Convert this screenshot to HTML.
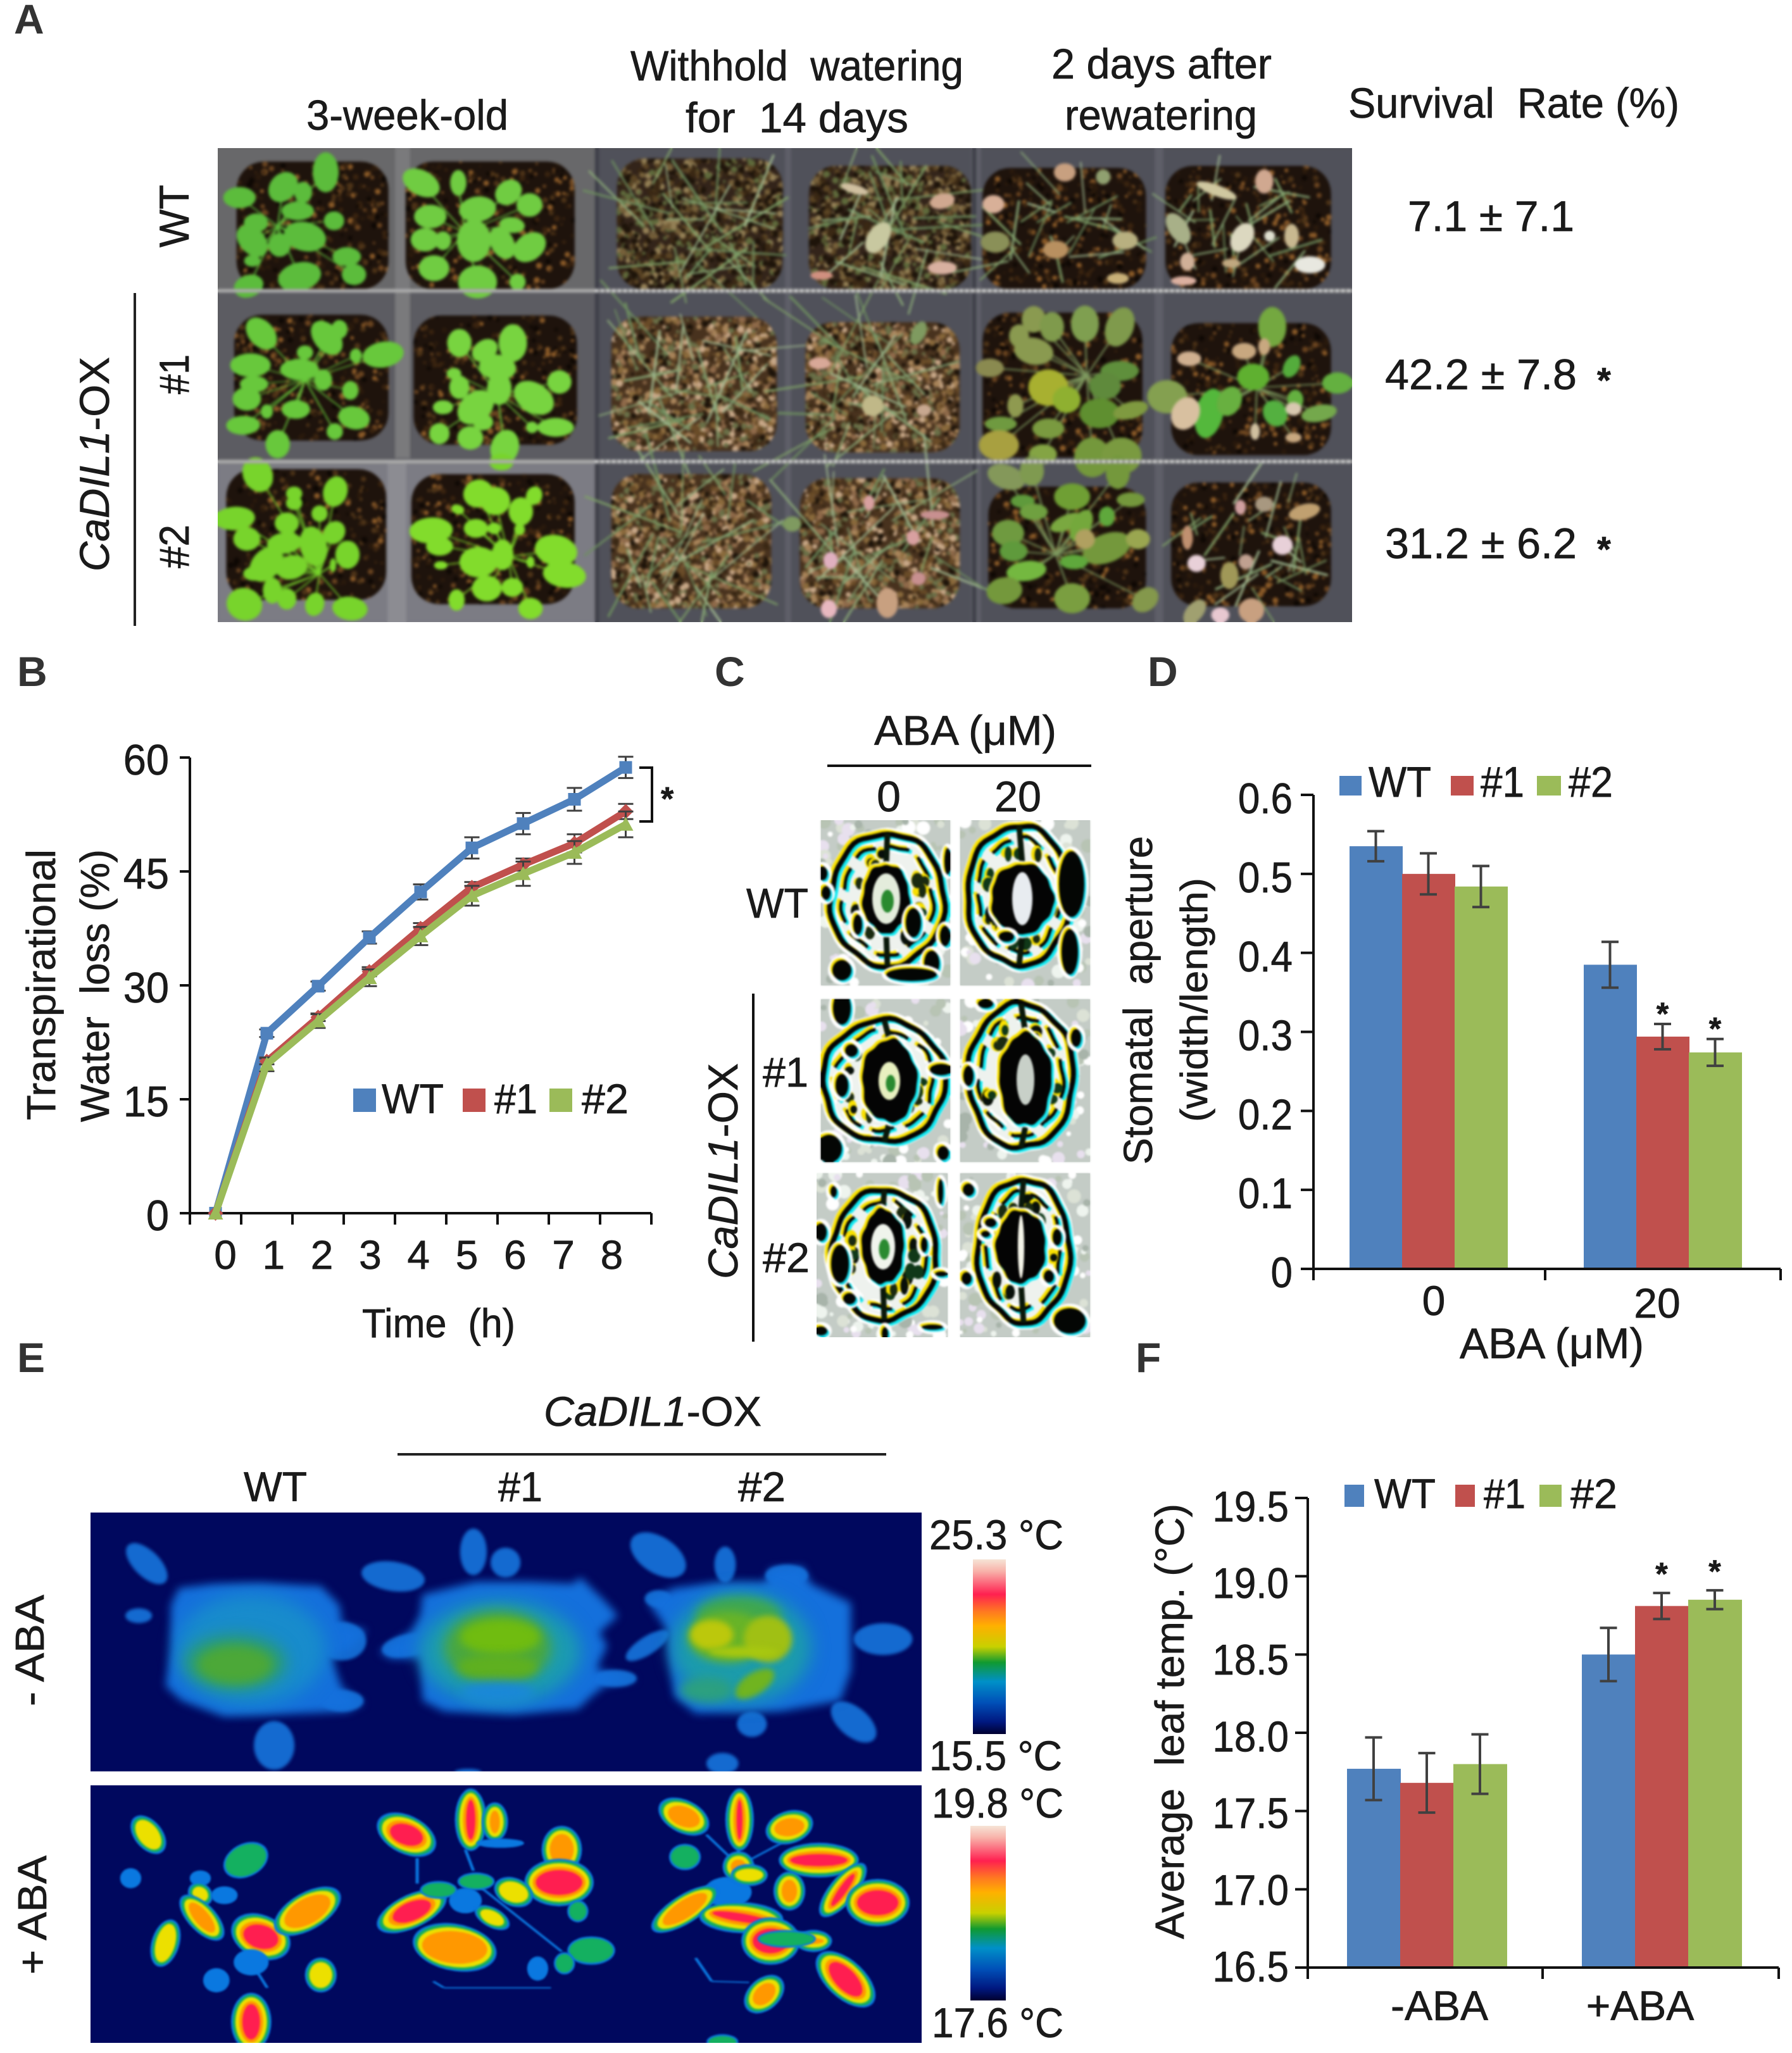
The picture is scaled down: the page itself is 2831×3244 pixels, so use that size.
<!DOCTYPE html>
<html lang="en">
<head>
<meta charset="utf-8">
<title>CaDIL1 drought tolerance figure</title>
<style>
html,body{margin:0;padding:0;background:#fff;}
#fig{position:relative;width:2831px;height:3244px;overflow:hidden;background:#fff;font-family:"Liberation Sans",sans-serif;}
canvas{position:absolute;display:block;}
svg{position:absolute;left:0;top:0;}
text{font-family:"Liberation Sans",sans-serif;fill:#1a1a1a;stroke:#1a1a1a;stroke-width:.7px;}
.pl{font-weight:bold;font-size:66px;fill:#333;stroke:none;}
</style>
</head>
<body>
<div id="fig">
<canvas id="photo" width="1792" height="749" style="left:344px;top:234px"></canvas>
<canvas id="stomata" width="440" height="817" style="left:1290px;top:1296px"></canvas>
<canvas id="thermal" width="1313" height="838" style="left:143px;top:2390px"></canvas>
<svg id="ov" width="2831" height="3244" viewBox="0 0 2831 3244">
<defs>
<linearGradient id="heat" x1="0" y1="0" x2="0" y2="1">
<stop offset="0" stop-color="#f6e4d6"/><stop offset=".07" stop-color="#f8b0a8"/><stop offset=".2" stop-color="#ff2050"/><stop offset=".3" stop-color="#ff7a20"/><stop offset=".38" stop-color="#ffb000"/><stop offset=".5" stop-color="#c8d000"/><stop offset=".59" stop-color="#109a30"/><stop offset=".7" stop-color="#0090c8"/><stop offset=".82" stop-color="#0050b8"/><stop offset=".93" stop-color="#001880"/><stop offset="1" stop-color="#000030"/>
</linearGradient>
</defs>

<text class="pl" x="22" y="53">A</text>
<text class="pl" x="27" y="1084">B</text>
<text class="pl" x="1129" y="1084">C</text>
<text class="pl" x="1813" y="1084">D</text>
<text class="pl" x="27" y="2168">E</text>
<text class="pl" x="1794" y="2168">F</text>

<!-- Panel A text -->
<text x="484" y="205" font-size="67" textLength="319" lengthAdjust="spacingAndGlyphs">3-week-old</text>
<text x="996" y="127" font-size="67" textLength="526" lengthAdjust="spacingAndGlyphs" xml:space="preserve">Withhold  watering</text>
<text x="1083" y="209" font-size="67" textLength="352" lengthAdjust="spacingAndGlyphs" xml:space="preserve">for  14 days</text>
<text x="1661" y="124" font-size="67" textLength="348" lengthAdjust="spacingAndGlyphs">2 days after</text>
<text x="1682" y="205" font-size="67" textLength="304" lengthAdjust="spacingAndGlyphs">rewatering</text>
<text x="2130" y="186" font-size="67" textLength="523" lengthAdjust="spacingAndGlyphs" xml:space="preserve">Survival  Rate (%)</text>
<text x="2224" y="365" font-size="68" textLength="263" lengthAdjust="spacingAndGlyphs">7.1 ± 7.1</text>
<text x="2188" y="615" font-size="68" textLength="303" lengthAdjust="spacingAndGlyphs">42.2 ± 7.8</text>
<text x="2188" y="882" font-size="68" textLength="303" lengthAdjust="spacingAndGlyphs">31.2 ± 6.2</text>
<text x="2523" y="620" font-size="56" font-weight="bold">*</text>
<text x="2523" y="887" font-size="56" font-weight="bold">*</text>
<text transform="rotate(-90 298 391)" x="298" y="391" font-size="66" textLength="99" lengthAdjust="spacingAndGlyphs">WT</text>
<text transform="rotate(-90 298 623)" x="298" y="623" font-size="66" textLength="63" lengthAdjust="spacingAndGlyphs">#1</text>
<text transform="rotate(-90 298 898)" x="298" y="898" font-size="66" textLength="69" lengthAdjust="spacingAndGlyphs">#2</text>
<text transform="rotate(-90 172 903)" x="172" y="903" font-size="66" textLength="339" lengthAdjust="spacingAndGlyphs"><tspan font-style="italic">CaDIL1</tspan>-OX</text>
<line x1="213" y1="463" x2="213" y2="989" stroke="#222" stroke-width="4"/>

<!-- Panel B static -->
<text transform="rotate(-90 87 1770)" x="87" y="1770" font-size="64" textLength="428" lengthAdjust="spacingAndGlyphs">Transpirational</text>
<text transform="rotate(-90 172 1773)" x="172" y="1773" font-size="64" textLength="431" lengthAdjust="spacingAndGlyphs" xml:space="preserve">Water  loss (%)</text>
<text x="572" y="2113" font-size="64" textLength="242" lengthAdjust="spacingAndGlyphs" xml:space="preserve">Time  (h)</text>
<rect x="558" y="1720" width="36" height="37" fill="#4F81BD"/>
<text x="603" y="1759" font-size="66" textLength="98" lengthAdjust="spacingAndGlyphs">WT</text>
<rect x="731" y="1720" width="36" height="37" fill="#C0504D"/>
<text x="781" y="1759" font-size="66" textLength="68" lengthAdjust="spacingAndGlyphs">#1</text>
<rect x="868" y="1720" width="36" height="37" fill="#9BBB59"/>
<text x="919" y="1759" font-size="66" textLength="74" lengthAdjust="spacingAndGlyphs">#2</text>
<path d="M1010 1213H1030V1298H1010" fill="none" stroke="#111" stroke-width="4"/>
<text x="1044" y="1280" font-size="52" font-weight="bold">*</text>

<!-- Panel C text -->
<text x="1381" y="1177" font-size="66" textLength="288" lengthAdjust="spacingAndGlyphs">ABA (μM)</text>
<line x1="1307" y1="1210" x2="1724" y2="1210" stroke="#111" stroke-width="4"/>
<text x="1404" y="1282" text-anchor="middle" font-size="68">0</text>
<text x="1608" y="1282" text-anchor="middle" font-size="68" textLength="74" lengthAdjust="spacingAndGlyphs">20</text>
<text x="1179" y="1450" font-size="66" textLength="98" lengthAdjust="spacingAndGlyphs">WT</text>
<text x="1205" y="1717" font-size="66" textLength="72" lengthAdjust="spacingAndGlyphs">#1</text>
<text x="1205" y="2010" font-size="66" textLength="74" lengthAdjust="spacingAndGlyphs">#2</text>
<line x1="1190" y1="1570" x2="1190" y2="2120" stroke="#111" stroke-width="4"/>
<text transform="rotate(-90 1165 2021)" x="1165" y="2021" font-size="66" textLength="341" lengthAdjust="spacingAndGlyphs"><tspan font-style="italic">CaDIL1</tspan>-OX</text>

<!-- Panel D static -->
<text transform="rotate(-90 1820 1840)" x="1820" y="1840" font-size="64" textLength="519" lengthAdjust="spacingAndGlyphs" xml:space="preserve">Stomatal  aperture</text>
<text transform="rotate(-90 1907 1773)" x="1907" y="1773" font-size="60" textLength="386" lengthAdjust="spacingAndGlyphs">(width/length)</text>
<text x="2306" y="2146" font-size="68" textLength="291" lengthAdjust="spacingAndGlyphs">ABA (μM)</text>
<rect x="2116" y="1226" width="35" height="31" fill="#4F81BD"/>
<text x="2162" y="1259" font-size="68" textLength="99" lengthAdjust="spacingAndGlyphs">WT</text>
<rect x="2292" y="1226" width="36" height="31" fill="#C0504D"/>
<text x="2339" y="1259" font-size="68" textLength="69" lengthAdjust="spacingAndGlyphs">#1</text>
<rect x="2428" y="1226" width="38" height="31" fill="#9BBB59"/>
<text x="2478" y="1259" font-size="68" textLength="70" lengthAdjust="spacingAndGlyphs">#2</text>

<!-- Panel E text -->
<text x="859" y="2253" font-size="66" textLength="344" lengthAdjust="spacingAndGlyphs"><tspan font-style="italic">CaDIL1</tspan>-OX</text>
<line x1="628" y1="2298" x2="1400" y2="2298" stroke="#222" stroke-width="4"/>
<text x="385" y="2372" font-size="66" textLength="100" lengthAdjust="spacingAndGlyphs">WT</text>
<text x="787" y="2372" font-size="66" textLength="70" lengthAdjust="spacingAndGlyphs">#1</text>
<text x="1166" y="2372" font-size="66" textLength="75" lengthAdjust="spacingAndGlyphs">#2</text>
<text transform="rotate(-90 69 2696)" x="69" y="2696" font-size="64" textLength="176" lengthAdjust="spacingAndGlyphs">- ABA</text>
<text transform="rotate(-90 73 3120)" x="73" y="3120" font-size="64" textLength="188" lengthAdjust="spacingAndGlyphs">+ ABA</text>
<text x="1468" y="2448" font-size="66" textLength="212" lengthAdjust="spacingAndGlyphs">25.3 °C</text>
<text x="1468" y="2797" font-size="66" textLength="210" lengthAdjust="spacingAndGlyphs">15.5 °C</text>
<text x="1472" y="2872" font-size="66" textLength="208" lengthAdjust="spacingAndGlyphs">19.8 °C</text>
<text x="1472" y="3219" font-size="66" textLength="208" lengthAdjust="spacingAndGlyphs">17.6 °C</text>
<rect x="1537" y="2464" width="52" height="276" fill="url(#heat)"/>
<rect x="1533" y="2885" width="56" height="276" fill="url(#heat)"/>

<!-- Panel F static -->
<text transform="rotate(-90 1870 3064)" x="1870" y="3064" font-size="64" textLength="688" lengthAdjust="spacingAndGlyphs" xml:space="preserve">Average  leaf temp. (°C)</text>
<rect x="2124" y="2346" width="31" height="35" fill="#4F81BD"/>
<text x="2171" y="2383" font-size="66" textLength="97" lengthAdjust="spacingAndGlyphs">WT</text>
<rect x="2299" y="2346" width="31" height="35" fill="#C0504D"/>
<text x="2344" y="2383" font-size="66" textLength="66" lengthAdjust="spacingAndGlyphs">#1</text>
<rect x="2432" y="2346" width="35" height="35" fill="#9BBB59"/>
<text x="2481" y="2383" font-size="66" textLength="74" lengthAdjust="spacingAndGlyphs">#2</text>

<g id="chartB"></g>
<g id="chartD"></g>
<g id="chartF"></g>
</svg>
</div>

<script>
/* ---------- chart data ---------- */
const timeLabels = ['0','1','2','3','4','5','6','7','8'];
const lossTicks = [0,15,30,45,60];
const lossWT = [0,23.7,29.9,36.3,42.3,48.1,51.3,54.5,58.7];
const loss1 = [0,20.0,25.8,31.8,37.5,42.9,45.9,48.7,52.9];
const loss2 = [0,19.6,25.3,31.0,36.5,41.8,44.7,47.5,51.2];
const lossErrWT = [0,0.5,0.6,0.8,1.0,1.4,1.4,1.5,1.4];
const lossErr1 = [0,0.4,0.5,0.6,0.7,0.7,0.8,1.2,1.0];
const lossErr2 = [0,0.9,0.9,1.1,1.2,1.3,1.6,1.5,1.7];

const apertureGroups = ['0','20'];
const apertureTicks = ['0','0.1','0.2','0.3','0.4','0.5','0.6'];
const apertureWT = [0.535,0.385];
const aperture1 = [0.500,0.294];
const aperture2 = [0.484,0.274];
const apertureErrWT = [0.019,0.029];
const apertureErr1 = [0.026,0.016];
const apertureErr2 = [0.026,0.017];
const apertureStars1 = [false,true];
const apertureStars2 = [false,true];

const tempGroups = ['-ABA','+ABA'];
const tempTicks = ['16.5','17.0','17.5','18.0','18.5','19.0','19.5'];
const tempWT = [17.77,18.50];
const temp1 = [17.68,18.81];
const temp2 = [17.80,18.85];
const tempErrWT = [0.20,0.17];
const tempErr1 = [0.19,0.083];
const tempErr2 = [0.19,0.06];
const tempStars1 = [false,true];
const tempStars2 = [false,true];

/* ---------- svg helpers ---------- */
const NS = 'http://www.w3.org/2000/svg';
const BLUE = '#4F81BD', RED = '#C0504D', GREEN = '#9BBB59', AXIS = '#111', ERR = '#404040';
function mk(tag, attrs, parent, txt){
  const e = document.createElementNS(NS, tag);
  for (const k in attrs) e.setAttribute(k, attrs[k]);
  if (txt !== undefined) e.textContent = txt;
  parent.appendChild(e);
  return e;
}
function errBar(parent, x, y1, y2, capW, w, name){
  const p = mk('path', {d:`M${x-capW/2} ${y1}H${x+capW/2}M${x} ${y1}V${y2}M${x-capW/2} ${y2}H${x+capW/2}`, fill:'none', stroke:ERR, 'stroke-width':w}, parent);
  
  
}
function numWidth(s, fs){
  let w = 0;
  for (const c of s) w += (c === '.' ? 0.278 : 0.556) * fs;
  return w;
}

/* ---------- Panel B: line chart ---------- */
(function(){
  const g = document.getElementById('chartB');
  const xB = i => 300 + (i + 0.5) * 81;
  const yB = v => 1917 - v / 60 * 720;
  const xLabel = i => 356 + 76.3 * i;
  const yAxis = mk('path', {d:'M300 1197V1917', stroke:AXIS, 'stroke-width':4, fill:'none'}, g);
  
  
  const xAxis = mk('path', {d:'M300 1917H1029', stroke:AXIS, 'stroke-width':4, fill:'none'}, g);
  
  
  lossTicks.forEach(v => {
    const t = mk('line', {x1:284, x2:300, y1:yB(v), y2:yB(v), stroke:AXIS, 'stroke-width':4}, g);
    
    
    const l = mk('text', {x:267, y:yB(v)+27, 'text-anchor':'end', 'font-size':68, textLength:numWidth(String(v),65), lengthAdjust:'spacingAndGlyphs'}, g, String(v));
    
    
  });
  for (let i = 0; i <= timeLabels.length; i++){
    const t = mk('line', {x1:300+i*81, x2:300+i*81, y1:1917, y2:1935, stroke:AXIS, 'stroke-width':4}, g);
    
    
  }
  timeLabels.forEach((s, i) => {
    const l = mk('text', {x:xLabel(i), y:2005, 'text-anchor':'middle', 'font-size':64}, g, s);
    
    
  });
  const series = [
    {v:lossWT, e:lossErrWT, c:BLUE, n:'wt', m:'s'},
    {v:loss1, e:lossErr1, c:RED, n:'line-1', m:'d'},
    {v:loss2, e:lossErr2, c:GREEN, n:'line-2', m:'t'}
  ];
  series.forEach(s => {
    s.v.forEach((v, i) => {
      if (s.e[i] > 0) errBar(g, xB(i), yB(v + s.e[i]), yB(v - s.e[i]), 24, 3, 'error-bar-' + s.n);
    });
    const pts = s.v.map((v, i) => xB(i) + ',' + yB(v)).join(' ');
    const line = mk('polyline', {points:pts, fill:'none', stroke:s.c, 'stroke-width':11, 'stroke-linejoin':'round'}, g);
    
    
    s.v.forEach((v, i) => {
      const x = xB(i), y = yB(v), r = 10;
      const d = s.m === 's' ? `M${x-r} ${y-r}H${x+r}V${y+r}H${x-r}Z`
              : s.m === 'd' ? `M${x} ${y-r-2}L${x+r+2} ${y}L${x} ${y+r+2}L${x-r-2} ${y}Z`
              : `M${x} ${y-r-2}L${x+r+2} ${y+r}H${x-r-2}Z`;
      const mark = mk('path', {d:d, fill:s.c}, g);
      
      
    });
  });
})();

/* ---------- bar chart panels ---------- */
function drawBars(g, o){
  const ya = mk('line', {x1:o.x0, x2:o.x0, y1:o.yTop, y2:o.yBase, stroke:AXIS, 'stroke-width':4}, g);
  
  
  const series = [
    {v:o.a, e:o.ae, c:BLUE, n:'wt'},
    {v:o.b, e:o.be, c:RED, n:'line-1', st:o.bs},
    {v:o.c, e:o.ce, c:GREEN, n:'line-2', st:o.cs}
  ];
  series.forEach((s, si) => {
    s.v.forEach((v, gi) => {
      const x = o.groupX(gi) + si * o.barW;
      const bar = mk('rect', {x:x, y:o.y(v), width:o.barW + 1, height:o.yBase - o.y(v), fill:s.c}, g);
      
      
    });
  });
  series.forEach((s, si) => {
    s.v.forEach((v, gi) => {
      const x = o.groupX(gi) + si * o.barW + o.barW / 2;
      errBar(g, x, o.y(v + s.e[gi]), o.y(v - s.e[gi]), o.cap, 4, 'error-bar-' + s.n + '-' + gi);
      if (s.st && s.st[gi]){
        const st = mk('text', {x:x, y:o.y(v + s.e[gi]) - o.starGap + 29, 'text-anchor':'middle', 'font-size':50, 'font-weight':'bold'}, g, '*');
        
        
      }
    });
  });
  const xa = mk('line', {x1:o.x0 - 20, x2:o.x1, y1:o.yBase, y2:o.yBase, stroke:AXIS, 'stroke-width':4}, g);
  
  
  o.xticks.forEach(x => {
    const t = mk('line', {x1:x, x2:x, y1:o.yBase, y2:o.yBase + 18, stroke:AXIS, 'stroke-width':4}, g);
    
    
  });
  o.ticks.forEach((s, i) => {
    const v = parseFloat(s);
    const t = mk('line', {x1:o.x0 - 20, x2:o.x0, y1:o.y(v), y2:o.y(v), stroke:AXIS, 'stroke-width':4}, g);
    
    
    const l = mk('text', {x:o.labelRight, y:o.labelY(i), 'text-anchor':'end', 'font-size':68, textLength:numWidth(s, 62), lengthAdjust:'spacingAndGlyphs'}, g, s);
    
    
  });
  o.groups.forEach((s, i) => {
    const l = mk('text', {x:o.catX(i), y:o.catY(i), 'text-anchor':'middle', 'font-size':66}, g, s);
    
    
  });
}
drawBars(document.getElementById('chartD'), {
  a:apertureWT, b:aperture1, c:aperture2, ae:apertureErrWT, be:apertureErr1, ce:apertureErr2,
  bs:apertureStars1, cs:apertureStars2, groups:apertureGroups, ticks:apertureTicks,
  x0:2075, x1:2813, yTop:1256, yBase:2005, y:v => 2005 - v / 0.6 * 749,
  groupX:i => 2132 + i * 370, barW:83, cap:27, starGap:28,
  xticks:[2075,2441,2813], labelRight:2042, labelY:i => 2034 - i * 124.8,
  catX:i => 2265 + i * 353, catY:i => 2078 + i * 4
});
drawBars(document.getElementById('chartF'), {
  a:tempWT, b:temp1, c:temp2, ae:tempErrWT, be:tempErr1, ce:tempErr2,
  bs:tempStars1, cs:tempStars2, groups:tempGroups, ticks:tempTicks,
  x0:2066, x1:2810, yTop:2367, yBase:3109, y:v => 3109 - (v - 16.5) / 3 * 742,
  groupX:i => 2128 + i * 371, barW:84, cap:27, starGap:42,
  xticks:[2066,2437,2810], labelRight:2036, labelY:i => 3131 - i * 121.2,
  catX:i => 2274 + i * 317, catY:i => 3192
});

/* ---------- plant photo ---------- */
function prng(seed){ let s = seed; return () => (s = (s * 16807) % 2147483647) / 2147483647; }
(function(){
  const c = document.getElementById('photo').getContext('2d');
  const R = prng(20240);
  const W = 1792, H = 749;
  const px = x => x * 1.805 - 344, py = y => y * 0.663 - 234;
  const pick = a => a[Math.floor(R() * a.length)];
  // tray
  c.fillStyle = '#50515a'; c.fillRect(0,0,W,H);
  [[0,0,596,225,'#68686a'],[0,225,596,270,'#5c5c62'],[0,495,596,254,'#7c7c84']].forEach(b => { c.fillStyle = b[4]; c.fillRect(b[0],b[1],b[2],b[3]); });
  c.fillStyle = '#7a7a7c'; c.fillRect(280,0,24,490);
  c.fillStyle = '#8c8c92'; c.fillRect(268,495,30,254);
  c.fillStyle = '#5e5f68';
  [[896,0,10,749],[1190,0,16,749],[1480,0,14,749]].forEach(b => c.fillRect(b[0],b[1],b[2],b[3]));
  c.fillStyle = '#3e3f48';
  [[596,0,6,749],[1192,0,6,749]].forEach(b => c.fillRect(b[0],b[1],b[2],b[3]));
  const soils = [
    [207,340,385,690,'s',0],[355,503,385,690,'s',0],[540,685,378,690,'w',0],[708,850,395,690,'w',0],[860,1003,400,690,'d',0],[1020,1165,395,690,'d',0],
    [205,340,750,1050,'s',0],[362,505,752,1060,'s',0],[535,680,755,1075,'w',1],[705,840,768,1078,'w',1],[860,1000,745,1090,'s',0],[1025,1165,770,1085,'s',0],
    [198,338,1118,1430,'s',0],[360,503,1130,1440,'s',0],[535,675,1130,1450,'w',1],[700,840,1140,1450,'w',1],[865,1003,1160,1450,'s',0],[1025,1165,1150,1445,'d',0]
  ];
  function rr(x,y,w,h,r){ c.beginPath(); c.moveTo(x+r,y); c.arcTo(x+w,y,x+w,y+h,r); c.arcTo(x+w,y+h,x,y+h,r); c.arcTo(x,y+h,x,y,r); c.arcTo(x,y,x+w,y,r); c.closePath(); }
  function ell(a, col, k){
    const f = k || 1;
    c.fillStyle = col;
    c.beginPath(); c.ellipse(a[0],a[1],a[2]*f,a[3]*f,(a[4]||0)*Math.PI/180,0,7); c.fill();
  }
  function stemLine(x0,y0,x1,y1,col,w){
    c.strokeStyle = col; c.lineWidth = w;
    c.beginPath(); c.moveTo(x0,y0); c.lineTo(x1,y1); c.stroke();
  }
  soils.forEach(s => {
    const x = px(s[0]), w = px(s[1]) - x, y = py(s[2]), h = py(s[3]) - y, t = s[4];
    c.fillStyle = t === 'w' ? (s[5] ? '#48321e' : '#33241a') : '#1e130c';
    rr(x,y,w,h,44); c.fill();
    c.save(); rr(x,y,w,h,44); c.clip();
    const nd = t === 'w' ? 1100 : 340;
    const cols = t === 'w'
      ? (s[5] ? ['#6a4c28','#8a6a3c','#a8845a','#3a2814','#1e140a','#6a7048','#c8a888','#8f6a4a']
              : ['#5a4424','#76603a','#3a2814','#1e140a','#1e140a','#5f6a3c','#948056'])
      : ['#3a2410','#4e3418','#6a4420','#0e0804','#2a1a0c','#8a5a28'];
    for (let i = 0; i < nd; i++){
      c.fillStyle = pick(cols);
      c.beginPath(); c.arc(x + R()*w, y + R()*h, 2 + R()*(t === 'w' ? 4 : 3), 0, 7); c.fill();
    }
    c.restore();
    const cx = x + w/2, cy = y + h/2;
    if (t === 'w' || t === 'd'){
      const stemCount = t === 'w' ? 26 : 24;
      for (let i = 0; i < stemCount; i++){
        const a = R()*6.28, l = (t === 'w' ? 60 : 30) + R()*(t === 'w' ? 110 : 70);
        const sx = cx + (R()-.5)*w*.7, sy = cy + (R()-.5)*h*.7;
        stemLine(sx,sy,sx+Math.cos(a)*l,sy+Math.sin(a)*l,pick(['#8aa878','#7fa068','#a0b890','#6f9060']),2+R()*1.6);
      }
    }
  });

  /* fresh plants, row 1–2, columns 1–2 */
  const freshTop = [
    {c:[165,370],col:'#5cbc3c',l:[[297,115,32,85,0],[180,185,35,65,10],[60,235,40,45,0],[235,210,22,45,0],[220,298,40,40,0],[320,345,25,40,0],[105,355,30,40,0],[240,420,50,65,-20],[95,440,35,70,-15],[170,460,28,50,0],[95,535,20,25,0],[355,515,35,40,0],[375,600,30,45,0],[225,610,50,65,25],[85,655,35,50,15]]},
    {c:[680,400],col:'#70cc42',l:[[560,165,40,65,-25],[662,165,20,55,0],[715,290,45,55,15],[585,325,40,50,0],[570,435,35,50,0],[620,440,20,40,0],[800,210,32,55,10],[858,270,32,50,0],[810,365,30,35,-30],[705,440,42,90,0],[783,450,30,70,-10],[858,470,38,65,15],[595,570,38,55,0],[715,635,48,70,0],[825,635,20,35,0]]},
    {c:[240,1100],col:'#68c83c',l:[[120,880,35,70,-15],[300,900,35,75,-15],[335,860,20,40,0],[240,970,20,30,0],[455,980,48,58,30],[90,1030,50,50,0],[225,1050,48,45,0],[380,985,15,30,0],[100,1120,35,35,0],[290,1100,22,45,0],[80,1190,35,50,0],[365,1150,20,40,0],[215,1240,35,40,0],[375,1280,38,50,-15],[70,1315,42,40,-20],[322,1345,20,35,0],[165,1405,30,60,0],[135,1250,15,30,0]]},
    {c:[770,1170],col:'#78d440',l:[[665,925,30,60,0],[735,960,30,50,15],[812,925,35,80,0],[770,1040,45,55,-15],[650,1070,18,25,0],[665,1135,25,50,0],[940,1110,30,50,0],[775,1140,30,70,0],[870,1185,45,75,-20],[710,1230,42,75,15],[620,1230,25,30,0],[610,1355,25,45,0],[695,1375,32,50,0],[790,1420,35,75,5],[930,1325,45,40,0],[865,1325,15,25,0],[730,1300,25,35,0]]}
  ];
  c.setTransform(.574,0,0,.333,0,0);
  freshTop.forEach(p => {
    p.l.forEach(a => stemLine(p.c[0],p.c[1],a[0],a[1],p.col,4));
    p.l.forEach(a => ell(a, p.col, 1.12));
  });
  /* fresh plants, row 3 */
  const freshBottom = [
    {c:[420,560],col:'#78d42c',l:[[165,90,55,75,-15],[485,170,45,65,10],[315,180,30,30,0],[315,225,30,30,0],[420,275,30,35,0],[70,298,75,50,-5],[285,320,45,45,0],[120,395,50,50,0],[480,365,40,50,20],[275,415,65,45,-10],[395,430,50,85,-10],[535,470,45,60,0],[200,515,55,80,30],[150,560,40,30,0],[305,530,60,50,-25],[475,520,12,30,0],[110,705,65,70,-20],[225,640,35,55,0],[285,680,35,45,0],[400,705,35,50,10],[545,725,65,50,10]]},
    {c:[1200,480],col:'#82dc2c',l:[[1075,180,55,60,20],[1145,215,55,60,0],[1305,190,30,40,10],[1250,265,45,60,0],[880,355,80,55,-5],[1065,345,45,40,0],[915,430,50,40,0],[1140,345,25,25,0],[1395,450,80,65,20],[1075,505,70,65,0],[1175,470,40,65,0],[990,255,25,20,30],[1430,565,80,55,10],[1110,630,55,55,0],[1215,625,40,40,0],[985,685,30,45,0],[1290,725,45,45,0],[920,520,25,18,0],[1290,505,15,25,0],[1245,350,20,25,0]]}
  ];
  c.setTransform(.383,0,0,.333,0,486);
  freshBottom.forEach(p => {
    p.l.forEach(a => stemLine(p.c[0],p.c[1],a[0],a[1],p.col,5));
    p.l.forEach(a => ell(a, p.col, 1.12));
  });
  ell([1170,30,50,40,0],'#78d42c');

  /* damaged plants, columns 3–6 */
  c.setTransform(.578,0,0,.479,896,0);
  const olive = [
    {c:[825,750],l:[[680,565,30,40,0,'#8a9a50'],[730,590,30,45,0,'#7f9a4c'],[820,580,35,55,0,'#7f9f50'],[915,590,35,60,15,'#7f9a4c'],[640,620,25,35,0,'#8a9a50'],[680,670,50,40,20,'#8a9a50'],[915,735,48,30,0,'#5f8f3c'],[560,725,35,28,0,'#8a8a50'],[875,785,40,40,30,'#5f8a3c'],[720,790,50,55,0,'#a8b030'],[770,830,35,40,0,'#8fb030'],[860,875,50,45,0,'#5f8f30'],[630,850,20,35,0,'#8f9a50'],[590,910,40,22,0,'#6f9a40'],[945,865,45,25,-20,'#7f9a40'],[585,980,50,45,0,'#a8a040'],[720,925,40,30,0,'#7a9a40'],[840,1020,45,60,0,'#74983c'],[920,1015,50,55,0,'#7a9a40'],[705,1010,35,30,0,'#84a444']]},
    {c:[740,1340],l:[[605,1085,50,35,30,'#84985a'],[675,1065,30,45,0,'#7f9a50'],[910,1070,30,50,0,'#74983c'],[785,1150,45,40,0,'#6f9f34'],[945,1160,35,22,0,'#74983c'],[650,1165,30,20,0,'#5f9a3c'],[680,1200,35,25,0,'#6fa040'],[770,1235,45,22,-30,'#7aa840'],[810,1245,25,50,20,'#74a83c'],[880,1215,20,30,0,'#5fa83c'],[610,1270,40,40,-30,'#6f9a40'],[625,1330,35,30,0,'#5f9a3c'],[880,1320,65,42,-30,'#74983c'],[965,1290,30,30,0,'#9aa650'],[660,1395,50,30,-10,'#74b840'],[790,1365,35,22,0,'#5fa83c'],[600,1460,45,40,-20,'#74983c'],[785,1485,45,45,-30,'#7a9e40'],[985,1490,30,40,30,'#84984c'],[820,1290,25,30,0,'#b0a060']]},
    {c:[1290,790],l:[[1332,590,35,60,0,'#74a840'],[1280,755,40,40,0,'#5fb030'],[1385,720,20,35,20,'#54ac3c'],[1510,775,38,32,0,'#64b040'],[1045,820,50,50,-30,'#84a050'],[1160,875,35,75,10,'#54b83c'],[1215,835,30,45,15,'#68b040'],[1340,875,30,40,-15,'#54b040'],[1460,875,45,25,-15,'#74a84c'],[1395,830,20,30,0,'#64b040'],[1095,875,35,50,15,'#d8c0a0'],[1105,695,30,22,0,'#d0b090'],[1255,670,30,25,0,'#c8a880'],[1390,860,20,20,0,'#d8c8b0'],[1285,935,12,25,0,'#d0c0a0'],[1390,955,20,15,0,'#c8a880'],[1310,655,15,25,0,'#c8a880']]}
  ];
  olive.forEach(p => {
    p.l.forEach(a => stemLine(p.c[0],p.c[1],a[0],a[1],'#7f9a60',4));
    p.l.forEach(a => ell(a, a[5], 1.1));
  });
  const withered = [
    [570,185,30,30,0,'#d8b098'],[765,80,30,30,0,'#c8a080'],[930,305,35,30,0,'#b8b080'],[740,335,35,30,0,'#b89060'],[575,310,40,35,0,'#8a9058'],[910,430,30,18,0,'#c8b078'],[870,95,20,25,0,'#90a070'],
    [1250,295,30,50,20,'#dcd8c0'],[1435,385,42,28,0,'#e8e8e0'],[1310,110,25,40,0,'#d0a890'],[1180,140,60,18,25,'#d0c8a0'],[1075,265,28,55,-25,'#a8b088'],[1100,375,20,30,0,'#d0b098'],[1385,290,20,40,0,'#c8b890'],[1090,438,35,15,0,'#dcb0a0'],[1325,290,15,18,0,'#e0e0d0'],[1220,380,25,15,0,'#c0a880'],
    [1360,1310,28,32,0,'#e8d0d8'],[1125,1370,25,28,0,'#e8d0d8'],[1245,1185,15,25,0,'#d0a0a0'],[1310,1175,25,25,0,'#a89880'],[1420,1200,45,25,-20,'#c0a070'],[1100,1285,15,40,0,'#c09070'],[1215,1410,25,45,0,'#a09858'],[1260,1365,20,25,0,'#c0a090'],[1275,1525,35,40,0,'#c8a080'],[1190,1540,25,25,0,'#e8c8d0'],[1120,1530,25,45,30,'#a0a070'],
    [255,295,30,55,25,'#c8c8a0'],[430,175,35,25,-20,'#d0a890'],[430,395,40,22,0,'#d8b0a0'],[100,420,30,15,0,'#d09080'],[190,135,40,15,20,'#d0c0a0'],
    [95,710,30,20,0,'#d8a898'],[240,850,30,35,0,'#c0b888'],[380,865,20,20,0,'#c8a890'],[365,610,20,40,20,'#7f9a60'],
    [125,1360,20,28,0,'#e0b0c0'],[350,1285,18,25,0,'#d8a0a0'],[230,1170,15,25,0,'#d8a0a0'],[410,1210,40,15,0,'#c89090'],[280,1500,30,50,0,'#c8a080'],[120,1520,22,30,0,'#e8b8c0'],[20,1240,25,25,0,'#7f9a60'],[365,1420,20,22,0,'#c89090']
  ];
  withered.forEach(a => ell(a, a[5]));
  c.setTransform(1,0,0,1,0,0);

  // dotted row separators
  [py(693), py(1100)].forEach(y => {
    c.fillStyle = '#909090'; c.fillRect(0,y-3,W,6);
    c.fillStyle = '#e8e8e8';
    for (let x = 596; x < W; x += 9) c.fillRect(x,y-2,5,4);
    c.fillStyle = '#b4b4b4'; c.fillRect(0,y-2,596,4);
  });
  c.filter = 'blur(2px)';
  c.drawImage(c.canvas,0,0);
  c.filter = 'none';
})();

/* ---------- stomata micrographs ---------- */
(function(){
  const c = document.getElementById('stomata').getContext('2d');
  const R = prng(777);
  const OX = 1290, OY = 1296;
  const cells = [
    {r:[1297,1296,204,261], o:[1402,1422,90,105], p:[1400,1420,38,55], q:[22,40,'#e4ecdc'], b:[[1300,1380,7,11],[1305,1411,7,11],[1355,1461,7,16],[1443,1458,12,23],[1330,1533,15,16],[1472,1522,12,20],[1493,1479,8,16],[1497,1361,5,21],[1440,1540,40,10]]},
    {r:[1517,1296,205,261], o:[1610,1415,82,110], p:[1615,1420,50,56], q:[16,42,'#e8ecf0'], b:[[1693,1397,20,52],[1690,1504,13,36],[1590,1480,12,8]]},
    {r:[1297,1579,204,257], o:[1397,1708,97,96], p:[1405,1708,44,66], q:[17,30,'#e8f0c0'], b:[[1330,1593,14,26],[1330,1715,10,18],[1310,1815,20,22],[1487,1690,18,9],[1490,1822,9,11],[1345,1660,10,10]]},
    {r:[1517,1579,205,257], o:[1613,1700,83,114], p:[1620,1706,42,74], q:[14,40,'#c8d0c8'], b:[[1557,1586,12,7],[1530,1700,8,16],[1700,1640,8,14]]},
    {r:[1290,1854,207,259], o:[1397,1983,83,103], p:[1395,1970,34,60], q:[19,36,'#f0f4ec'], b:[[1327,1997,14,30],[1342,2052,10,9],[1460,1967,5,12],[1487,2013,10,4],[1486,1883,4,20],[1473,2097,17,4],[1398,2107,5,10],[1317,1883,5,9],[1297,1947,9,14],[1297,2103,10,7]]},
    {r:[1517,1854,205,259], o:[1617,1977,73,113], p:[1613,1970,40,58], q:[5,50,'#f4f4e8'], b:[[1565,1932,9,7],[1557,1950,7,5],[1670,1955,7,13],[1657,2017,8,10],[1527,2020,8,10],[1690,2087,25,20],[1530,1880,9,10]]}
  ];
  function wob(cx,cy,rx,ry,amp,ph){
    c.beginPath();
    for (let i = 0; i <= 72; i++){
      const a = i / 72 * 6.2832;
      const k = 1 + amp * Math.sin(5 * a + ph) + amp * .6 * Math.sin(11 * a + ph * 2);
      const x = cx + Math.cos(a) * rx * k, y = cy + Math.sin(a) * ry * k;
      if (i) c.lineTo(x,y); else c.moveTo(x,y);
    }
    c.closePath();
  }
  function ring(cx,cy,rx,ry,w,amp,ph,dash){
    c.setLineDash(dash || []);
    const s = (dx,dy,col,lw) => { wob(cx+dx,cy+dy,rx,ry,amp,ph); c.strokeStyle = col; c.lineWidth = lw; c.stroke(); };
    s(0,0,'#ffffff',w+12);
    s(4,3,'#10e8f0',w+1);
    s(-4,-3,'#f8e000',w+1);
    s(0,0,'#040404',w);
    c.setLineDash([]);
  }
  cells.forEach((k,idx) => {
    const [x,y,w,h] = k.r;
    const ox = v => v - OX, oy = v => v - OY;
    c.save();
    c.beginPath(); c.rect(ox(x),oy(y),w,h); c.clip();
    c.fillStyle = '#c4ccc6'; c.fillRect(ox(x),oy(y),w,h);
    for (let i = 0; i < 130; i++){
      c.fillStyle = ['#a8b4aa','#eef4ee','#b8c4b4','#dce2d6','#ffffff','#e8e0ee'][Math.floor(R()*6)];
      c.beginPath(); c.arc(ox(x)+R()*w, oy(y)+R()*h, 3+R()*8, 0, 7); c.fill();
    }
    const cx = ox(k.o[0]), cy = oy(k.o[1]), rx = k.o[2], ry = k.o[3];
    const pcx = ox(k.p[0]), pcy = oy(k.p[1]);
    c.fillStyle = '#eef2ee'; wob(cx,cy,rx,ry,.02,idx); c.fill();
    ring(cx,cy,rx,ry,8,.022,idx*1.3);
    ring(cx,cy,rx*.8,ry*.82,5,.03,idx*2.1,[36,18]);
    for (let i = 0; i < 14; i++){
      const a = R()*6.28, d = .55 + R()*.16;
      const bx = cx+Math.cos(a)*rx*d, by = cy+Math.sin(a)*ry*d;
      c.fillStyle = '#f8e000'; c.beginPath(); c.ellipse(bx-2,by-2,6+R()*5,7+R()*8,0,0,7); c.fill();
      c.fillStyle = ['#08100a','#103818','#1a2a10'][Math.floor(R()*3)];
      c.beginPath(); c.ellipse(bx,by,5+R()*5,6+R()*8,0,0,7); c.fill();
    }
    c.strokeStyle = '#0a180a'; c.lineWidth = 9;
    c.beginPath(); c.moveTo(cx,cy-ry); c.lineTo(pcx,pcy-k.p[3]); c.moveTo(pcx,pcy+k.p[3]); c.lineTo(cx,cy+ry); c.stroke();
    c.strokeStyle = '#ffffff'; c.lineWidth = 10;
    wob(pcx,pcy,k.p[2],k.p[3],.035,idx); c.stroke();
    c.fillStyle = '#f8e000'; wob(pcx-3,pcy-3,k.p[2],k.p[3],.035,idx); c.fill();
    c.fillStyle = '#10e8f0'; wob(pcx+3,pcy+3,k.p[2],k.p[3],.035,idx); c.fill();
    c.fillStyle = '#040404'; wob(pcx,pcy,k.p[2]-1,k.p[3]-1,.035,idx); c.fill();
    c.fillStyle = k.q[2]; c.beginPath(); c.ellipse(pcx,pcy,k.q[0],k.q[1],0,0,7); c.fill();
    if (idx === 0 || idx === 4 || idx === 2){
      c.fillStyle = '#2a8a30'; c.beginPath(); c.ellipse(pcx+2,pcy+4,k.q[0]*.45,k.q[1]*.45,0,0,7); c.fill();
    }
    k.b.forEach(a => {
      const bx = ox(a[0]), by = oy(a[1]);
      c.fillStyle = '#ffffff'; c.beginPath(); c.ellipse(bx,by,a[2]+7,a[3]+7,0,0,7); c.fill();
      c.fillStyle = '#f8e000'; c.beginPath(); c.ellipse(bx-3,by-3,a[2],a[3],0,0,7); c.fill();
      c.fillStyle = '#10d8e8'; c.beginPath(); c.ellipse(bx+3,by+3,a[2],a[3],0,0,7); c.fill();
      c.fillStyle = '#040604'; c.beginPath(); c.ellipse(bx,by,a[2],a[3],0,0,7); c.fill();
    });
    c.restore();
  });
  c.filter = 'blur(1.5px)';
  c.drawImage(c.canvas,0,0);
  c.filter = 'none';
})();

/* ---------- thermal images ---------- */
(function(){
  const c = document.getElementById('thermal').getContext('2d');
  const NAVY = '#00085e';
  const SX = .846, SY = .336;
  c.fillStyle = NAVY;
  c.fillRect(0,0,1313,409);
  c.fillRect(0,431,1313,407);
  function ell(a, col, blur){
    c.filter = `blur(${blur}px)`;
    c.fillStyle = col;
    c.beginPath(); c.ellipse(a[0],a[1],a[2],a[3],(a[4]||0)*Math.PI/180,0,7); c.fill();
    c.filter = 'none';
  }
  function poly(p, col, blur){
    c.filter = `blur(${blur}px)`;
    c.fillStyle = col;
    c.beginPath();
    p.forEach((q,i) => i ? c.lineTo(q[0],q[1]) : c.moveTo(q[0],q[1]));
    c.closePath(); c.fill();
    c.filter = 'none';
  }
  /* top panel in crop coordinates */
  c.save();
  c.beginPath(); c.rect(0,0,1313,409); c.clip();
  c.setTransform(SX,0,0,SY,0,-5);
  [[105,255,30,100,-15],[90,500,25,35,0],[343,1110,38,115,0],[470,620,45,90,0],[470,900,40,50,0],
   [565,315,55,75,-25],[715,200,25,110,0],[775,250,28,70,0],[980,795,40,40,0],[590,640,40,60,30],
   [1060,215,45,110,-15],[1185,260,20,85,0],[1300,310,40,50,0],[1480,610,55,75,0],[1425,1000,35,100,-15],[1235,1010,28,60,0],[1180,1195,30,50,0],[1060,420,25,40,0],[1040,640,25,80,25],[705,1235,25,15,0]
  ].forEach(a => ell(a,'#146ad0',2.5));
  const bodies = [
    {p:[[165,370],[230,350],[320,345],[430,360],[465,450],[470,540],[515,570],[490,650],[450,700],[470,840],[510,910],[480,950],[400,960],[250,975],[170,900],[140,830],[150,650],[150,450]],
     i:[[300,660,140,260,0,'#188ccc',14],[270,720,95,130,0,'#2c9e70',12],[270,730,70,90,0,'#4ca838',8]]},
    {p:[[620,400],[720,340],[820,340],[900,350],[915,320],[960,430],[985,500],[950,580],[965,640],[945,750],[1020,800],[960,830],[935,880],[910,940],[790,965],[660,950],[620,900],[615,700],[560,700],[540,670],[600,570],[615,500]],
     i:[[765,670,150,240,0,'#1c9cb0',14],[760,650,100,175,0,'#4aa840',10],[765,600,75,85,0,'#70bc10',7],[760,740,75,60,0,'#5fb020',7],[760,860,70,50,0,'#1a88d8',8]]},
    {p:[[1090,370],[1180,340],[1260,340],[1270,280],[1330,270],[1345,350],[1420,440],[1420,600],[1420,760],[1400,900],[1290,950],[1130,960],[1090,880],[1080,700],[1075,560],[1040,430]],
     i:[[1215,650,130,260,0,'#1c9cac',14],[1210,500,80,90,0,'#40a850',8],[1190,600,75,120,0,'#68b428',7],[1160,590,40,70,0,'#bcc80c',5],[1265,610,45,110,0,'#a0c014',5],[1220,670,65,25,0,'#a8c810',4],[1240,820,28,75,20,'#70b420',4],[1150,850,50,60,0,'#2ca080',8]]}
  ];
  bodies.forEach(b => {
    poly(b.p,'#1470dc',7);
    b.i.forEach(a => ell(a,a[5],a[6]));
  });
  c.setTransform(1,0,0,1,0,0);
  c.restore();

  /* bottom panel in crop coordinates */
  c.save();
  c.beginPath(); c.rect(0,431,1313,407); c.clip();
  c.setTransform(SX,0,0,SY,0,425);
  const layerInset = [4,1,-3,-9,-14];
  const layerCol = ['#0a78e0','#14b060','#ece000','#ff9800','#ff1e50'];
  function hot(a){
    const n = Math.max(1, Math.ceil(a[5] * 5));
    for (let i = 0; i < n; i++){
      const rx = a[2] + layerInset[i] / SX, ry = a[3] + layerInset[i] / SY;
      if (rx > 1 && ry > 1) ell([a[0],a[1],rx,ry,a[4]], layerCol[i], 1.8);
    }
  }
  c.strokeStyle = '#0a78e0'; c.lineWidth = 6;
  c.filter = 'blur(1.5px)';
  [[640,940,660,970],[660,970,860,970],[610,360,610,480],[1130,830,1160,940],[1160,940,1230,945],[700,320,715,420],[720,480,880,800],[290,720,300,900],[300,850,330,970],[1210,320,1210,400],[1150,250,1200,370],[1290,290,1230,370]].forEach(s => {
    c.beginPath(); c.moveTo(s[0],s[1]); c.lineTo(s[2],s[3]); c.stroke();
  });
  c.filter = 'none';
  [[108,250,25,80,-10,.6],[290,370,35,75,10,.25],[75,455,15,35,0,.05],[205,455,15,25,0,.05],[205,530,18,45,-5,.6],[250,535,20,30,0,.05],[208,640,27,100,-15,.65],[140,760,22,100,5,.5],[318,730,48,100,-10,.95],[405,610,45,110,20,.65],[235,935,20,45,0,.05],[430,910,25,70,0,.6],[300,1130,33,125,0,.9],[300,850,28,50,0,.1],
   [700,560,26,48,0,.05],[590,250,45,95,-15,.98],[710,180,25,135,0,.98],[755,190,20,80,0,.65],[880,320,33,100,0,.75],[875,475,60,100,0,1],[600,610,45,100,25,.98],[680,780,70,105,-15,.7],[750,640,22,50,-20,.55],[790,520,30,60,-10,.55],[720,470,30,30,0,.4],[935,795,40,55,0,.25],[885,855,15,40,0,.35],[835,880,15,45,0,.05],[650,510,30,30,0,.3],[765,290,40,10,0,.05],[910,610,15,40,0,.35],
   [1190,520,40,60,0,.05],[1108,165,38,80,-15,.65],[1212,180,22,135,0,1],[1305,215,38,70,10,.75],[1110,355,25,50,0,.3],[1360,370,70,70,0,1],[1405,510,25,120,15,.98],[1305,515,25,80,0,.75],[1470,570,55,100,0,1],[1110,600,35,110,25,.7],[1215,640,75,60,25,1],[1270,750,50,100,0,.95],[1350,750,30,40,0,.8],[1300,740,50,30,0,.3],[1410,930,40,125,-15,1],[1258,1000,30,80,10,.65],[1210,400,25,60,0,.65],[1180,1225,25,25,0,.4],[1230,440,30,40,0,.6]
  ].forEach(hot);
  c.setTransform(1,0,0,1,0,0);
  c.restore();
})();
</script>
</body>
</html>
